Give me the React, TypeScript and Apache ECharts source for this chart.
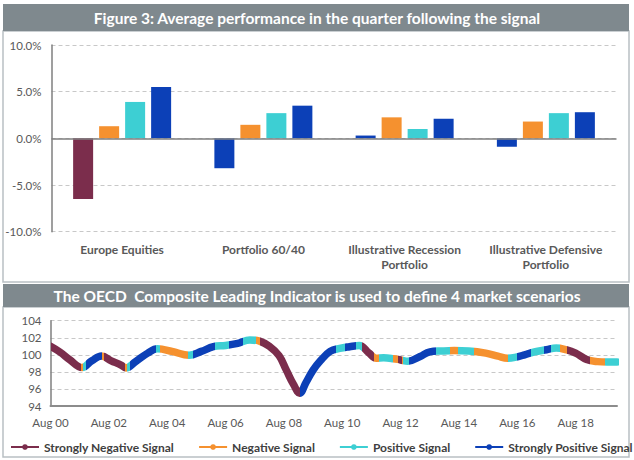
import React, { useEffect, useRef } from "react";
import * as echarts from "echarts";

// ---------- Data ----------
const topTitle = "Figure 3: Average performance in the quarter following the signal";
const bottomTitle = "The OECD  Composite Leading Indicator is used to define 4 market scenarios";

const categories = [
  "Europe Equities",
  "Portfolio 60/40",
  "Illustrative Recession\nPortfolio",
  "Illustrative Defensive\nPortfolio",
];
const signalNames = [
  "Strongly Negative Signal",
  "Negative Signal",
  "Positive Signal",
  "Strongly Positive Signal",
];
const signalColors = ["#7b2d4c", "#f5912f", "#3dcfd3", "#0c40b7"];

// average quarterly performance (%)
const stronglyNegative = [-6.5, -3.2, 0.3, -0.9];
const stronglyNegativeColorIdx = [0, 3, 3, 3];
const negative = [1.3, 1.45, 2.25, 1.8];
const positive = [3.9, 2.7, 1.0, 2.7];
const stronglyPositive = [5.5, 3.5, 2.1, 2.8];
const barSeriesValues = [stronglyNegative, negative, positive, stronglyPositive];

const pctTicks = [-10, -5, 0, 5, 10];

// OECD CLI: month index from Aug 2000, value
const cliMonths = [
  0, 4, 8, 13, 17, 21, 25, 29, 31, 35, 40, 44, 50, 57, 62, 67, 72, 77, 82, 86,
  90, 94, 97, 100, 102.5, 105, 108, 111, 115, 119, 123, 127, 131, 134, 137, 141,
  144, 147, 152, 156, 161, 166, 172, 179, 184, 188, 191, 195, 199, 204, 208, 212,
  216, 220.5, 225, 229, 233,
];
const cliValues = [
  101.0, 100.3, 99.4, 98.5, 99.3, 99.85, 99.3, 98.8, 98.45, 99.2, 100.2, 100.7,
  100.4, 99.95, 100.4, 100.95, 101.1, 101.35, 101.75, 101.6, 101.0, 99.9, 98.2,
  96.5, 95.5, 96.7, 98.2, 99.3, 100.4, 100.75, 100.95, 101.1, 100.2, 99.6, 99.65,
  99.55, 99.4, 99.25, 99.8, 100.35, 100.45, 100.5, 100.45, 100.2, 99.85, 99.6,
  99.7, 100.0, 100.35, 100.6, 100.8, 100.6, 100.2, 99.45, 99.2, 99.15, 99.15,
];

// regime segments: start month + signal index (0 SN, 1 N, 2 P, 3 SP)
const regimeStarts = [
  0, 12.5, 13.5, 14.5, 21, 22, 30.5, 31.5, 32.5, 43.5, 45, 56.5, 58.5, 67.5, 73.5,
  79, 84.5, 86, 102.5, 117.5, 121, 125.5, 128, 133, 135, 141, 143, 144.5, 145,
  147.5, 158.5, 164.5, 167.5, 174, 188, 192, 197.5, 203, 206, 209.5, 212.5, 222, 228,
];
const regimeCodes = [
  0, 1, 2, 3, 1, 0, 1, 2, 3, 2, 1, 2, 3, 2, 3,
  2, 1, 0, 3, 2, 3, 2, 0, 1, 2, 1, 0, 1, 2,
  3, 2, 1, 2, 1, 2, 3, 2, 3, 2, 1, 0, 1, 2,
];
const lastMonth = 233;

const xLabels = [
  "Aug 00", "Aug 02", "Aug 04", "Aug 06", "Aug 08",
  "Aug 10", "Aug 12", "Aug 14", "Aug 16", "Aug 18",
];
const cliTicks = [94, 96, 98, 100, 102, 104];

// ---------- Chart ----------
const FONT = "Lato, 'Open Sans', sans-serif";
const LABEL = "#595959";

export default function App() {
  const ref = useRef<HTMLDivElement>(null);

  useEffect(() => {
    if (!ref.current) return;
    const chart = echarts.init(ref.current, undefined, { renderer: "svg" });

    const barSeries = barSeriesValues.map((vals, si) => ({
      type: "bar",
      name: "bar " + signalNames[si],
      xAxisIndex: 0,
      yAxisIndex: 0,
      barWidth: 20,
      barGap: "30%",
      data: vals.map((v, i) => ({
        value: v,
        itemStyle: {
          color:
            si === 0
              ? signalColors[stronglyNegativeColorIdx[i]]
              : signalColors[si],
        },
      })),
      markLine:
        si === 0
          ? {
              silent: true,
              symbol: "none",
              label: { show: false },
              lineStyle: { color: "#7f7f7f", type: "solid", width: 1.5 },
              data: [{ yAxis: 0 }],
            }
          : undefined,
    }));

    const pieces = regimeStarts.map((s, i) => {
      const end = i + 1 < regimeStarts.length ? regimeStarts[i + 1] : lastMonth + 1;
      return { gte: s, lt: end, color: signalColors[regimeCodes[i]] };
    });

    const option: any = {
      animation: false,
      textStyle: { fontFamily: FONT },
      graphic: [
        {
          type: "rect",
          shape: { x: 3, y: 31, width: 626, height: 251 },
          style: { fill: "#fff", stroke: "#b9c0c4", lineWidth: 1.5 },
          z: -10,
        },
        {
          type: "rect",
          shape: { x: 3, y: 307, width: 626, height: 150 },
          style: { fill: "#fff", stroke: "#b9c0c4", lineWidth: 1.5 },
          z: -10,
        },
        {
          type: "rect",
          shape: { x: 3, y: 4, width: 626, height: 27 },
          style: { fill: "#7f898e" },
        },
        {
          type: "text",
          x: 317,
          y: 18,
          style: {
            text: topTitle,
            fill: "#fff",
            font: "bold 15.5px " + FONT,
            textAlign: "center",
            textVerticalAlign: "middle",
          },
        },
        {
          type: "rect",
          shape: { x: 3, y: 284, width: 626, height: 23 },
          style: { fill: "#7f898e" },
        },
        {
          type: "text",
          x: 317,
          y: 295.5,
          style: {
            text: bottomTitle,
            fill: "#fff",
            font: "bold 15.5px " + FONT,
            textAlign: "center",
            textVerticalAlign: "middle",
          },
        },
      ],
      grid: [
        { left: 51.5, right: 17.5, top: 45, height: 186.7 },
        { left: 50.5, right: 17, top: 320.7, height: 85.3 },
      ],
      xAxis: [
        {
          type: "category",
          gridIndex: 0,
          data: categories,
          position: "bottom",
          axisLine: { show: false, onZero: false },
          axisTick: { show: false },
          axisLabel: {
            color: LABEL,
            fontSize: 12,
            fontWeight: "bold",
            margin: 10,
            lineHeight: 15,
            interval: 0,
          },
        },
        {
          type: "value",
          gridIndex: 1,
          min: 0,
          max: lastMonth,
          interval: 24,
          axisLine: { show: true, onZero: false, lineStyle: { color: "#8c8c8c", width: 2 } },
          axisTick: { show: false },
          splitLine: { show: false },
          axisLabel: {
            color: LABEL,
            fontSize: 11.5,
            margin: 10,
            showMaxLabel: false,
            formatter: (v: number) => (v % 24 === 0 ? xLabels[v / 24] ?? "" : ""),
          },
        },
      ],
      yAxis: [
        {
          type: "value",
          gridIndex: 0,
          min: pctTicks[0],
          max: pctTicks[pctTicks.length - 1],
          interval: 5,
          axisLine: { show: true, lineStyle: { color: "#7f7f7f", width: 1.5 } },
          axisTick: { show: false },
          splitLine: { lineStyle: { color: "#c8c8c8", type: [4, 3] } },
          axisLabel: {
            color: LABEL,
            fontSize: 11.5,
            margin: 10,
            formatter: (v: number) => v.toFixed(1) + "%",
          },
        },
        {
          type: "value",
          gridIndex: 1,
          min: cliTicks[0],
          max: cliTicks[cliTicks.length - 1],
          interval: 2,
          axisLine: { show: true, lineStyle: { color: "#7f7f7f", width: 1.5 } },
          axisTick: { show: false },
          splitLine: { lineStyle: { color: "#c8c8c8", type: [4, 3] } },
          axisLabel: { color: LABEL, fontSize: 11.5, margin: 9 },
        },
      ],
      visualMap: {
        type: "piecewise",
        show: false,
        dimension: 0,
        seriesIndex: 4,
        pieces,
      },
      legend: {
        data: signalNames,
        top: 441,
        left: 10,
        orient: "horizontal",
        itemWidth: 28,
        itemHeight: 7,
        itemGap: 24,
        padding: 0,
        textStyle: { color: "#404040", fontSize: 12, fontWeight: "bold", fontFamily: FONT },
      },
      series: [
        ...barSeries,
        {
          type: "line",
          name: "CLI",
          xAxisIndex: 1,
          yAxisIndex: 1,
          smooth: 0.4,
          symbol: "none",
          lineStyle: { width: 7.5, cap: "round", join: "round" },
          data: cliMonths.map((m, i) => [m, cliValues[i]]),
          z: 5,
        },
        ...signalNames.map((n, i) => ({
          type: "line",
          name: n,
          xAxisIndex: 1,
          yAxisIndex: 1,
          symbol: "circle",
          symbolSize: 6,
          color: signalColors[i],
          lineStyle: { width: 3, color: signalColors[i] },
          itemStyle: { color: signalColors[i] },
          data: [],
        })),
      ],
    };

    chart.setOption(option);
    return () => chart.dispose();
  }, []);

  return (
    <div
      ref={ref}
      style={{ position: "absolute", left: 0, top: 0, width: 634, height: 460, background: "#fff" }}
    />
  );
}
